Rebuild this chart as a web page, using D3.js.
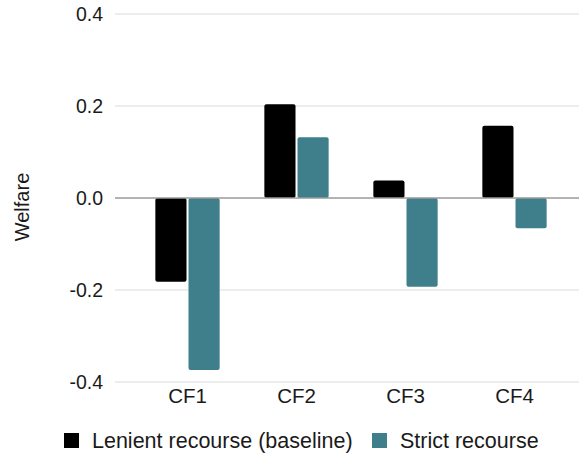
<!DOCTYPE html>
<html>
<head>
<meta charset="utf-8">
<script src="https://cdn.jsdelivr.net/npm/d3@7"></script>
<style>
  html, body { margin: 0; padding: 0; background: #fff; }
  svg { display: block; font-family: "Liberation Sans", Arial, sans-serif; }
</style>
</head>
<body>
<svg id="chart" width="579" height="455"></svg>
<script>
// Welfare by counterfactual, two recourse regimes
const categories = ["CF1", "CF2", "CF3", "CF4"];
const seriesNames = ["Lenient recourse (baseline)", "Strict recourse"];
const lenient = [-0.182, 0.204, 0.038, 0.157];
const strict = [-0.374, 0.132, -0.193, -0.066];
const yTicks = [-0.4, -0.2, 0.0, 0.2, 0.4];
const colors = ["#000000", "#3f7f8c"];

const svg = d3.select("#chart");
const plot = { left: 115, right: 579, top: 14, bottom: 382 };
const textColor = "#1a1a1a";

const y = d3.scaleLinear().domain([-0.4, 0.4]).range([plot.bottom, plot.top]);
const x0 = d3.scaleBand().domain(categories).range([133, 569])
  .paddingInner(0.41).paddingOuter(0.205);
const x1 = d3.scaleBand().domain(seriesNames).range([0, x0.bandwidth()]).paddingInner(0.06);
const color = d3.scaleOrdinal().domain(seriesNames).range(colors);

// horizontal grid
svg.append("g").selectAll("line").data(yTicks.filter(d => d !== 0)).join("line")
  .attr("x1", plot.left).attr("x2", plot.right)
  .attr("y1", d => y(d)).attr("y2", d => y(d))
  .attr("stroke", "#dcdcdc").attr("stroke-width", 1.2);

// y tick labels (plain hyphen for negatives)
const fmt = d => d.toFixed(1);
const yAxis = d3.axisLeft(y).tickValues(yTicks).tickFormat(fmt).tickSize(0).tickPadding(0);
const ya = svg.append("g").attr("transform", "translate(103,0)").call(yAxis);
ya.select(".domain").remove();
ya.selectAll("text").attr("font-size", 19.5).attr("fill", textColor)
  .attr("font-family", "Liberation Sans, Arial, sans-serif");

// bars
const rows = categories.map((c, i) => ({ cat: c, vals: [lenient[i], strict[i]] }));
svg.append("g").selectAll("g").data(rows).join("g")
  .attr("transform", d => `translate(${x0(d.cat)},0)`)
  .selectAll("rect")
  .data(d => d.vals.map((v, j) => ({ key: seriesNames[j], v })))
  .join("rect")
  .attr("x", d => x1(d.key))
  .attr("width", x1.bandwidth())
  .attr("y", d => Math.min(y(d.v), y(0)))
  .attr("height", d => Math.abs(y(d.v) - y(0)))
  .attr("rx", 2)
  .attr("fill", d => color(d.key));

// zero baseline
svg.append("line")
  .attr("x1", plot.left).attr("x2", plot.right)
  .attr("y1", y(0)).attr("y2", y(0))
  .attr("stroke", "#9a9a9a").attr("stroke-width", 1.6);

// x category labels
const xAxis = d3.axisBottom(x0).tickSize(0).tickPadding(0);
const xa = svg.append("g").attr("transform", "translate(0,388)").call(xAxis);
xa.select(".domain").remove();
xa.selectAll("text").attr("font-size", 20.5).attr("fill", textColor)
  .attr("font-family", "Liberation Sans, Arial, sans-serif");

// y axis title
svg.append("text")
  .attr("transform", "translate(29,207) rotate(-90)")
  .attr("text-anchor", "middle")
  .attr("font-size", 20).attr("fill", textColor)
  .text("Welfare");

// legend
const legendPos = [{ sx: 64, tx: 92 }, { sx: 372, tx: 400 }];
const legend = svg.append("g").selectAll("g").data(seriesNames).join("g");
legend.append("rect")
  .attr("x", (d, i) => legendPos[i].sx).attr("y", 433)
  .attr("width", 15).attr("height", 15)
  .attr("fill", d => color(d));
legend.append("text")
  .attr("x", (d, i) => legendPos[i].tx).attr("y", 448)
  .attr("font-size", 21.5).attr("fill", textColor)
  .text(d => d);
</script>
</body>
</html>
